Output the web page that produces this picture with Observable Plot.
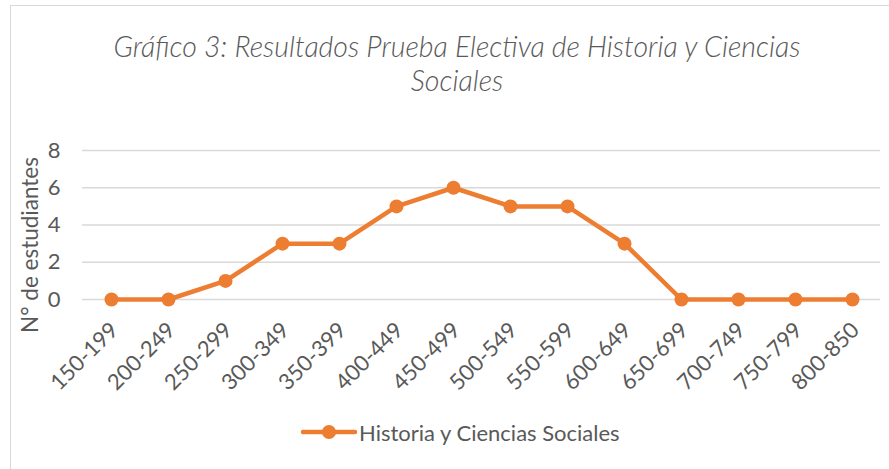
<!DOCTYPE html>
<html><head><meta charset="utf-8">
<script src="https://cdn.jsdelivr.net/npm/d3@7"></script>
<script src="https://cdn.jsdelivr.net/npm/@observablehq/plot@0.6"></script>
<style>
html,body{margin:0;padding:0;background:#fff;}
#wrap{position:relative;width:889px;height:469px;overflow:hidden;font-family:Lato,"Open Sans",sans-serif;color:#595959;}
#frame{position:absolute;left:10px;top:5px;width:900px;height:480px;border:1.5px solid #d9d9d9;box-sizing:border-box;}
#title{position:absolute;left:0;top:29px;width:914px;text-align:center;font-style:italic;font-weight:300;font-size:28.5px;line-height:34px;color:#595959;}
#legend{position:absolute;left:300px;top:419px;height:26px;display:flex;align-items:center;font-size:22px;color:#595959;}
#chart{position:absolute;left:0;top:0;}
</style></head>
<body><div id="wrap"><div id="frame"></div>
<div id="title">Gráfico 3: Resultados Prueba Electiva de Historia y Ciencias<br>Sociales</div>
<div id="chart"></div>
<div id="legend"><svg width="58" height="20"><line x1="3" y1="10" x2="55" y2="10" stroke="#ED7D31" stroke-width="4.5" stroke-linecap="round"/><circle cx="29" cy="10" r="7" fill="#ED7D31"/></svg><span style="margin-left:1px">Historia y Ciencias Sociales</span></div>
</div>
<script>
const categories = ["150-199","200-249","250-299","300-349","350-399","400-449","450-499","500-549","550-599","600-649","650-699","700-749","750-799","800-850"];
const values = [0,0,1,3,3,5,6,5,5,3,0,0,0,0];
const yTicks = [0,2,4,6,8];
const seriesName = "Historia y Ciencias Sociales";
const data = categories.map((c,i)=>({cat:c, v:values[i]}));
const color = "#ED7D31";
const plot = Plot.plot({
  width: 889, height: 469,
  marginLeft: 82, marginRight: 9, marginTop: 150, marginBottom: 170,
  style: {fontFamily: "Lato, 'Open Sans', sans-serif", fontSize: "21px", color: "#595959", background: "transparent"},
  x: {type: "point", domain: categories, padding: 0.5, label: null},
  y: {domain: [0, 8], ticks: yTicks, label: null},
  marks: [
    Plot.gridY(yTicks, {stroke: "#d9d9d9", strokeOpacity: 1, strokeWidth: 1.5}),
    Plot.axisY(yTicks, {tickSize: 0, tickPadding: 22, fontSize: 22, label: null}),
    Plot.axisX({tickSize: 0, tickRotate: -45, tickPadding: 24, fontSize: 22, dx: 3, dy: 3, label: null}),
    Plot.text(["N° de estudiantes"], {frameAnchor: "left", textAnchor: "middle", rotate: -90, dx: -52, dy: 20, fontSize: 22.5, fill: "#595959"}),
    Plot.line(data, {x: "cat", y: "v", stroke: color, strokeWidth: 4.5}),
    Plot.dot(data, {x: "cat", y: "v", r: 7, fill: color, stroke: "none"})
  ]
});
document.getElementById("chart").appendChild(plot);
</script>
</body></html>
